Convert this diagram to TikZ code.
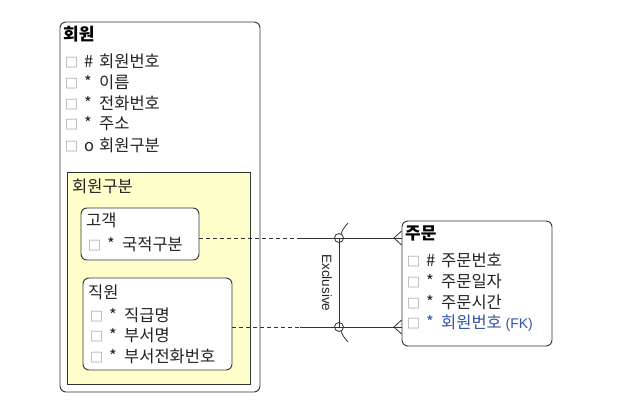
\documentclass[tikz,border=0pt]{standalone}
\usepackage{fontspec}
\setmainfont{Noto Sans CJK KR}
\newfontfamily\latinfont{Liberation Sans}
\usetikzlibrary{fit,calc}
\definecolor{edge}{HTML}{333333}
\definecolor{subfill}{HTML}{FFFFCC}
\definecolor{fkblue}{HTML}{2F55A4}
\definecolor{boxgray}{HTML}{808080}
\definecolor{txt}{HTML}{222222}
\newcommand{\cb}{\textcolor{boxgray}{\fontsize{13}{13}\selectfont □}}
\newcommand{\attr}[2]{\makebox[19pt][l]{\cb}\makebox[15pt][l]{#1}#2}
\begin{document}
\begin{tikzpicture}[x=1pt,y=-1pt,
  ent/.style={draw=edge, line width=0.9pt, rounded corners=6pt, fill=white, inner sep=0pt},
  grp/.style={draw=edge, line width=0.9pt, fill=subfill, inner sep=0pt},
  lbl/.style={anchor=west, inner sep=0pt, text=txt, font=\fontsize{16.5}{16.5}\selectfont},
  ttl/.style={anchor=west, inner sep=0pt, text=black, font=\fontsize{17}{17}\selectfont\bfseries},
  rel/.style={draw=edge, line width=0.8pt},
  dsh/.style={rel, dash pattern=on 4pt off 3pt}]
\useasboundingbox (0,0) rectangle (633,405);
% boxes
\node[ent, fit={(60,22)(260,392)}] (member) {};
\node[grp, fit={(67,172)(250,384)}] (sub) {};
\node[ent, fit={(81,208)(199,260)}] (cust) {};
\node[ent, fit={(83,278)(232,370)}] (emp) {};
\node[ent, fit={(402,221)(552,346)}] (order) {};
% member texts
\node[ttl] (mt) at (63,34) {회원};
\node[lbl] (m1) at (65,61) {\attr{\#}{회원번호}};
\node[lbl] (m2) at (65,82) {\attr{*}{이름}};
\node[lbl] (m3) at (65,103) {\attr{*}{전화번호}};
\node[lbl] (m4) at (65,124) {\attr{*}{주소}};
\node[lbl] (m5) at (65,145) {\attr{o}{회원구분}};
% subtype group
\node[lbl] (st) at (72,186) {회원구분};
\node[lbl] (ct) at (86,220) {고객};
\node[lbl] (c1) at (88,244) {\attr{*}{국적구분}};
\node[lbl] (et) at (88,292) {직원};
\node[lbl] (e1) at (90,315) {\attr{*}{직급명}};
\node[lbl] (e2) at (90,335) {\attr{*}{부서명}};
\node[lbl] (e3) at (90,356) {\attr{*}{부서전화번호}};
% order texts
\node[ttl] (ot) at (405,233) {주문};
\node[lbl] (o1) at (407,260) {\attr{\#}{주문번호}};
\node[lbl] (o2) at (407,281) {\attr{*}{주문일자}};
\node[lbl] (o3) at (407,302) {\attr{*}{주문시간}};
\node[lbl] (o4) at (407,323) {\makebox[19pt][l]{\cb}\makebox[15pt][l]{\textcolor{fkblue}{*}}\textcolor{fkblue}{회원번호 {\latinfont\fontsize{14}{14}\selectfont(FK)}}};
% relationships
\coordinate (j1) at (339,238);
\coordinate (j2) at (339,327);
\coordinate (s1) at (300,238);
\coordinate (s2) at (300,327);
\coordinate (f1) at (394,238);
\coordinate (f2) at (394,327);
\draw[dsh] (cust.east |- j1) -- (s1);
\draw[rel] (s1) -- (order.west |- j1);
\draw[dsh] (emp.east |- j2) -- (s2);
\draw[rel] (s2) -- (order.west |- j2);
\draw[rel] ($(order.west |- j1)+(0,-7)$) .. controls ($(f1)+(3,-4)$) .. (f1) .. controls ($(f1)+(3,4)$) .. ($(order.west |- j1)+(0,7)$);
\draw[rel] ($(order.west |- j2)+(0,-7)$) -- (f2) -- ($(order.west |- j2)+(0,7)$);
\draw[rel] (j1) -- (j2);
\draw[rel] (j1) circle (4.5);
\draw[rel] (j2) circle (4.5);
\draw[rel] ($(j1)+(2,-4)$) .. controls ($(j1)+(4,-9)$) .. ($(j1)+(9,-15)$);
\draw[rel] ($(j2)+(2,4)$) .. controls ($(j2)+(4,9)$) .. ($(j2)+(9,15)$);
\node[rotate=-90, inner sep=0pt, text=txt, font=\latinfont\fontsize{13.5}{13.5}\selectfont] (ex) at (327,283) {Exclusive};
\end{tikzpicture}
\end{document}
